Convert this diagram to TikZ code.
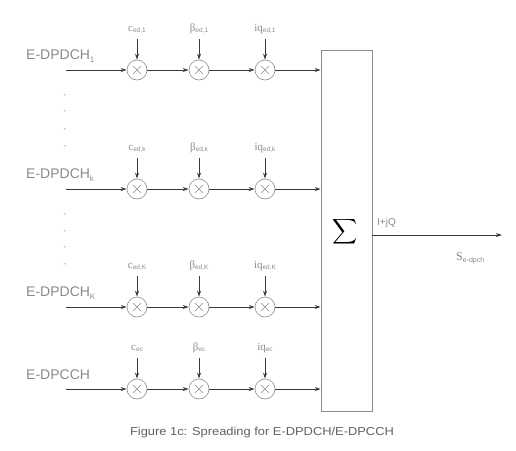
\documentclass[tikz,border=0pt]{standalone}
\usepackage{fontspec}
\setmainfont{Liberation Sans}
\newfontfamily\serifl{Liberation Serif}
\usetikzlibrary{arrows.meta}
\definecolor{txt}{HTML}{8A8A8A}
\definecolor{ln}{HTML}{3A3A3A}
\definecolor{cir}{HTML}{8C8C8C}
\newcommand{\sbs}[1]{\raisebox{-2.5pt}{\fontsize{8}{8}\selectfont #1}}
\newcommand{\csb}[1]{\raisebox{-1.5pt}{\fontsize{6.5}{7}\selectfont\rmfamily #1}}
\begin{document}
\begin{tikzpicture}[x=1pt,y=1pt,
  tip/.style={-{Stealth[length=6pt,width=4pt]}},
  flow/.style={draw=ln, line width=0.9pt, tip},
  mult/.style={circle, draw=cir, line width=0.6pt, minimum size=20pt, inner sep=0pt,
    path picture={\draw[cir, line width=0.6pt] ([shift={(-4pt,-4pt)}]path picture bounding box.center) -- ++(8pt,8pt)
      ([shift={(-4pt,4pt)}]path picture bounding box.center) -- ++(8pt,-8pt);}},
  chan/.style={anchor=west, text=txt, font=\fontsize{14}{16}\selectfont, inner sep=0pt},
  coef/.style={anchor=base, text=txt, font=\serifl\fontsize{11}{12}\selectfont, inner sep=0pt},
  dot/.style={text=txt, font=\fontsize{8}{8}\selectfont, inner sep=0pt}]
\useasboundingbox (0,0) rectangle (516,-450);

% summation box
\node[draw=cir, line width=0.6pt, minimum width=51pt, minimum height=361pt, inner sep=0pt] (sum) at (346.5,-230.5) {};
\node (sig) at (345,-232) {\scalebox{1.75}{$\displaystyle\sum$}};

% rows
\foreach \r/\y/\lab/\ca/\cb/\cc [count=\i] in {
  1/70/{E-DPDCH\sbs{1}}/{c\csb{ed,1}}/{β\csb{ed,1}}/{iq\csb{ed,1}},
  k/189/{E-DPDCH\sbs{k}}/{c\csb{ed,k}}/{β\csb{ed,k}}/{iq\csb{ed,k}},
  K/307/{E-DPDCH\sbs{K}}/{c\csb{ed,K}}/{β\csb{ed,K}}/{iq\csb{ed,K}},
  c/389/{E-DPCCH}/{c\csb{ec}}/{β\csb{ec}}/{iq\csb{ec}}} {
  \node[chan] (lab\r) at (26,-\y+14) {\lab};
  \coordinate (in\r) at (66,-\y);
  \node[mult] (ma\r) at (137,-\y) {};
  \node[mult] (mb\r) at (199,-\y) {};
  \node[mult] (mc\r) at (265,-\y) {};
  \node[coef] (ta\r) at (137,-\y+39) {\ca};
  \node[coef] (tb\r) at (199,-\y+39) {\cb};
  \node[coef] (tc\r) at (265,-\y+39) {\cc};
  \coordinate (sa\r) at (137,-\y+31);
  \coordinate (sb\r) at (199,-\y+31);
  \coordinate (sc\r) at (265,-\y+31);
  \draw[flow] (sa\r) -- (ma\r);
  \draw[flow] (sb\r) -- (mb\r);
  \draw[flow] (sc\r) -- (mc\r);
  \draw[flow] (in\r) -- (ma\r);
  \draw[flow] (ma\r) -- (mb\r);
  \draw[flow] (mb\r) -- (mc\r);
  \draw[flow] (mc\r) -- (mc\r -| sum.west);
}

% vertical dots
\foreach \y in {96,112,130,147,215,232,248,265}
  \node[dot] at (65,-\y) {-};

% output
\coordinate (out) at (502,-235);
\draw[flow] (sum.east |- out) -- (out);
\node[text=txt, font=\fontsize{10}{11}\selectfont, anchor=west, inner sep=0pt] (iq) at (377,-223) {I+jQ};
\node[text=txt, font=\serifl\fontsize{12}{13}\selectfont, anchor=west, inner sep=0pt] (s) at (456,-258) {S\raisebox{-2pt}{\fontsize{7}{8}\selectfont\rmfamily e-dpch}};

% caption
\node[text=ln!80, font=\fontsize{11.5}{13}\selectfont, inner sep=0pt] (cap) at (262,-433) {\scalebox{1.12}[1]{Figure 1c: Spreading for E-DPDCH/E-DPCCH}};
\end{tikzpicture}
\end{document}
